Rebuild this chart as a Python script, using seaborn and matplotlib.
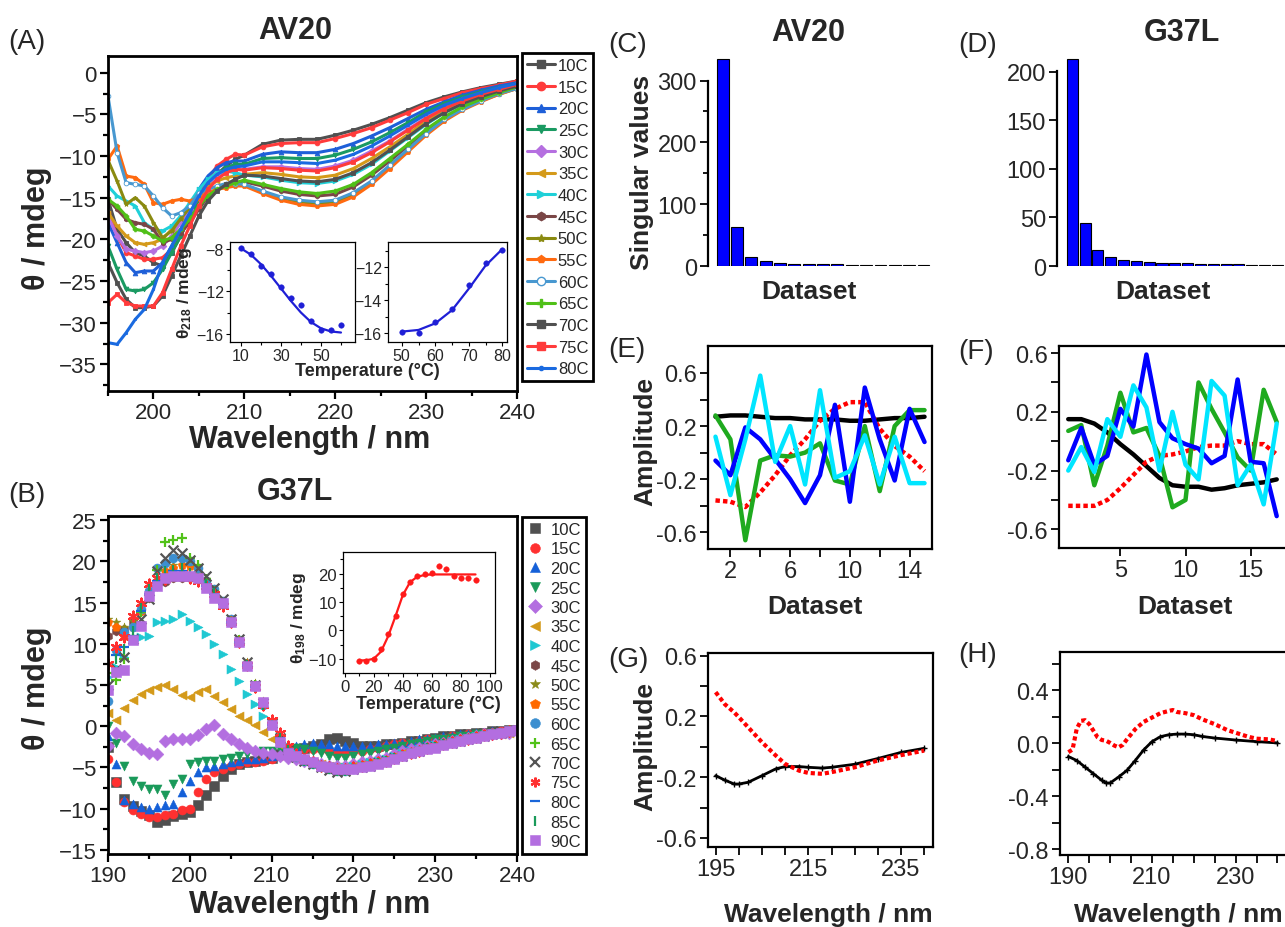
import matplotlib
matplotlib.use("Agg")
import matplotlib.pyplot as plt
import seaborn as sns
from matplotlib.lines import Line2D
from matplotlib.ticker import MultipleLocator, FixedLocator, FormatStrFormatter

sns.set_style("ticks")
plt.rcParams["font.family"] = ["Liberation Sans", "DejaVu Sans"]
plt.rcParams["mathtext.fontset"] = "custom"
plt.rcParams["mathtext.rm"] = "Liberation Sans"
plt.rcParams["mathtext.bf"] = "Liberation Sans:bold"
plt.rcParams["mathtext.it"] = "Liberation Sans:italic"

# ------------------------------------------------------------------ data
# Panel A : AV20 CD spectra (wavelength nm -> mdeg)
A_WL = list(range(195, 210)) + list(range(210, 241, 2))
A_TEMPS = ["10C", "15C", "20C", "25C", "30C", "35C", "40C", "45C", "50C", "55C", "60C", "65C", "70C", "75C", "80C"]
a10 = [-15.2, -18.8, -20.4, -21.6, -22.0, -22.8, -23.2, -21.6, -19.6, -17.2, -15.2, -13.6, -12.2, -11.2, -10.4,
       -9.9, -8.6, -8.1, -8.0, -8.0, -7.5, -6.9, -6.2, -5.4, -4.5, -3.6, -2.9, -2.3, -1.8, -1.4, -1.0]
a15 = [-16.8, -19.6, -21.6, -22.0, -22.4, -22.4, -22.2, -21.2, -19.6, -17.2, -14.8, -12.8, -11.2, -10.4, -9.8,
       -9.9, -8.9, -8.5, -8.4, -8.4, -7.9, -7.3, -6.6, -5.7, -4.8, -3.8, -3.1, -2.4, -1.9, -1.5, -1.0]
a20 = [-18.0, -20.4, -22.8, -24.0, -23.8, -23.8, -22.8, -20.8, -18.8, -16.4, -14.0, -12.4, -11.4, -10.8, -10.6,
       -10.6, -9.8, -9.5, -9.6, -9.6, -9.2, -8.5, -7.6, -6.6, -5.5, -4.4, -3.5, -2.7, -2.1, -1.6, -1.2]
a25 = [-20.8, -23.6, -26.0, -26.2, -26.0, -25.2, -23.6, -21.6, -19.6, -17.2, -15.2, -13.4, -12.2, -11.4, -11.0,
       -11.0, -10.3, -10.2, -10.3, -10.3, -9.9, -9.2, -8.3, -7.2, -6.0, -4.7, -3.7, -2.9, -2.3, -1.8, -1.3]
a30 = [-17.2, -19.6, -21.2, -21.4, -21.6, -21.4, -20.8, -19.6, -18.0, -16.4, -15.0, -13.6, -12.4, -11.8, -11.6,
       -11.6, -11.3, -11.3, -11.5, -11.6, -11.2, -10.5, -9.4, -8.2, -6.8, -5.4, -4.2, -3.3, -2.6, -1.9, -1.4]
a35 = [-16.8, -18.4, -19.6, -20.4, -20.6, -20.4, -20.0, -18.8, -17.4, -16.0, -14.8, -13.6, -13.0, -12.6, -12.4,
       -12.2, -12.0, -12.2, -12.5, -12.6, -12.3, -11.5, -10.3, -8.9, -7.4, -5.8, -4.6, -3.6, -2.8, -2.1, -1.5]
a40 = [-13.6, -14.8, -15.4, -16.0, -18.0, -18.8, -19.0, -18.4, -17.2, -15.6, -14.0, -12.8, -12.0, -11.8, -12.0,
       -12.3, -12.5, -12.9, -13.2, -13.3, -13.0, -12.2, -11.0, -9.4, -7.8, -6.2, -4.8, -3.8, -2.9, -2.2, -1.6]
a45 = [-15.2, -16.4, -17.6, -18.0, -18.2, -18.8, -20.4, -20.0, -19.2, -18.0, -16.4, -14.8, -13.8, -13.4, -13.2,
       -13.1, -13.6, -14.2, -14.6, -14.8, -14.6, -13.7, -12.3, -10.6, -8.8, -6.9, -5.4, -4.2, -3.3, -2.4, -1.8]
a50 = [-10.5, -13.0, -15.8, -15.0, -16.0, -18.0, -19.8, -19.0, -17.5, -16.2, -15.2, -14.6, -14.0, -13.7, -13.5,
       -13.5, -14.3, -15.0, -15.5, -15.7, -15.5, -14.6, -13.1, -11.3, -9.3, -7.3, -5.7, -4.4, -3.4, -2.6, -1.9]
a55 = [-10.4, -8.8, -12.4, -12.6, -13.4, -15.6, -15.8, -15.4, -15.2, -15.4, -15.0, -14.4, -14.0, -13.8, -13.6,
       -13.6, -14.5, -15.3, -15.8, -16.0, -15.8, -14.9, -13.4, -11.5, -9.5, -7.5, -5.8, -4.5, -3.5, -2.6, -1.9]
a60 = [-2.8, -9.6, -13.2, -13.4, -13.6, -14.8, -16.2, -17.2, -16.8, -16.0, -14.4, -14.0, -13.6, -13.3, -13.3,
       -13.4, -14.2, -14.9, -15.3, -15.5, -15.3, -14.4, -13.0, -11.1, -9.2, -7.3, -5.6, -4.4, -3.4, -2.5, -1.9]
a65 = [-15.2, -16.0, -17.2, -18.8, -19.0, -19.6, -20.2, -19.8, -18.8, -17.6, -16.0, -14.8, -14.0, -13.6, -13.2,
       -12.9, -13.4, -13.9, -14.3, -14.5, -14.2, -13.4, -12.0, -10.3, -8.6, -6.8, -5.3, -4.1, -3.2, -2.4, -1.7]
a70 = [-22.8, -25.2, -27.2, -28.2, -28.2, -28.0, -26.8, -24.4, -22.0, -19.6, -17.2, -15.4, -14.2, -13.4, -12.8,
       -12.3, -12.4, -12.7, -13.0, -13.1, -12.8, -12.0, -10.8, -9.3, -7.7, -6.1, -4.8, -3.7, -2.9, -2.2, -1.6]
a75 = [-27.6, -26.6, -27.6, -28.0, -28.0, -28.0, -26.4, -23.6, -20.8, -18.4, -16.0, -14.0, -12.8, -12.0, -11.6,
       -11.7, -11.4, -11.5, -11.7, -11.8, -11.4, -10.7, -9.6, -8.3, -6.9, -5.5, -4.3, -3.4, -2.6, -2.0, -1.4]
a80 = [-32.4, -32.6, -31.2, -29.6, -28.4, -26.0, -22.8, -20.8, -18.8, -16.8, -14.8, -13.2, -12.2, -11.6, -11.3,
       -11.2, -10.7, -10.7, -10.8, -10.9, -10.5, -9.8, -8.8, -7.6, -6.3, -5.0, -3.9, -3.1, -2.4, -1.8, -1.3]
A_SERIES = [a10, a15, a20, a25, a30, a35, a40, a45, a50, a55, a60, a65, a70, a75, a80]

# Panel A insets: theta218 vs temperature
A1_T = [10, 15, 20, 25, 30, 35, 40, 45, 50, 55, 60]
A1_PTS = [-7.9, -8.4, -9.6, -10.3, -11.6, -12.6, -13.3, -14.8, -15.7, -15.7, -15.2]
A1_FIT = [-7.9, -8.5, -9.4, -10.5, -11.7, -12.9, -14.0, -14.9, -15.5, -15.8, -15.9]
A2_T = [50, 55, 60, 65, 70, 75, 80]
A2_PTS = [-15.9, -16.0, -15.3, -14.5, -13.05, -11.76, -10.95]
A2_FIT = [-15.9, -15.8, -15.4, -14.6, -13.3, -11.9, -10.9]

# Panel B : G37L CD spectra
B_WL = list(range(190, 241))
B_TEMPS = ["10C", "15C", "20C", "25C", "30C", "35C", "40C", "45C", "50C", "55C", "60C", "65C", "70C", "75C", "80C", "85C", "90C"]
b10 = [-2.5, -6.8, -8.8, -9.7, -10.3, -10.8, -11.6, -11.4, -10.9, -10.6, -10.4,
       -9.6, -8.4, -7.2, -6.0, -5.2, -4.6, -4.4, -4.2, -4.0, -3.8,
       -3.4, -3.0, -2.8, -2.6, -2.4, -2.2, -1.6, -1.4, -1.8, -2.0,
       -2.4, -2.4, -2.4, -2.2, -2.2, -2.0, -1.8, -1.8, -1.6, -1.4,
       -1.2, -1.2, -1.0, -1.0, -0.8, -0.8, -0.6, -0.6, -0.5, -0.5]
b15 = [-4.0, -6.8, -9.2, -10.2, -10.6, -11.0, -11.0, -10.8, -10.6, -10.2, -10.0,
       -8.0, -6.4, -5.6, -5.2, -4.8, -4.6, -4.4, -4.4, -4.2, -4.0,
       -3.6, -3.2, -3.0, -2.8, -2.8, -2.8, -3.0, -3.2, -3.2, -3.0,
       -3.0, -2.8, -2.6, -2.4, -2.2, -2.0, -2.0, -1.8, -1.6, -1.6,
       -1.4, -1.2, -1.2, -1.0, -1.0, -0.8, -0.8, -0.6, -0.6, -0.5]
b20 = [-1.2, -4.6, -9.0, -9.4, -9.8, -10.0, -9.8, -9.6, -9.4, -8.0, -6.6,
       -5.6, -5.0, -4.8, -4.6, -4.4, -4.2, -4.0, -4.0, -3.8, -3.6,
       -3.2, -2.8, -2.4, -2.2, -2.0, -2.2, -2.2, -2.4, -2.4, -2.4,
       -2.4, -2.4, -2.2, -2.2, -2.0, -2.0, -1.8, -1.6, -1.6, -1.4,
       -1.2, -1.2, -1.0, -1.0, -0.8, -0.8, -0.6, -0.6, -0.5, -0.5]
b25 = [0.0, -2.0, -4.8, -6.6, -7.2, -7.6, -7.6, -8.4, -7.0, -6.4, -4.6,
       -4.4, -4.2, -4.2, -4.0, -3.8, -3.6, -3.4, -3.2, -3.0, -3.0,
       -2.8, -2.6, -2.6, -2.8, -3.0, -3.2, -3.6, -3.8, -3.8, -3.6,
       -3.4, -3.2, -3.0, -2.8, -2.6, -2.4, -2.2, -2.0, -1.8, -1.6,
       -1.6, -1.4, -1.2, -1.2, -1.0, -1.0, -0.8, -0.8, -0.6, -0.6]
b30 = [-2.4, -0.8, -1.2, -2.2, -2.8, -3.2, -3.4, -1.8, -1.5, -1.6, -1.5,
       -1.1, -0.3, 0.1, -0.9, -1.5, -2.2, -2.6, -3.0, -3.2, -3.4,
       -3.6, -3.8, -4.0, -4.2, -4.4, -4.6, -4.8, -4.8, -4.8, -4.6,
       -4.4, -4.2, -4.0, -3.8, -3.4, -3.0, -2.8, -2.6, -2.4, -2.2,
       -2.0, -1.8, -1.6, -1.4, -1.2, -1.0, -1.0, -0.8, -0.8, -0.6]
b35 = [1.6, 0.8, 2.2, 3.2, 3.9, 4.4, 4.8, 5.0, 4.5, 3.8, 3.5,
       4.1, 4.5, 3.7, 2.9, 2.1, 1.3, 0.7, 0.1, -0.7, -1.5,
       -2.3, -3.0, -3.6, -4.0, -4.3, -4.6, -4.8, -4.9, -4.9, -4.8,
       -4.6, -4.4, -4.2, -4.0, -3.6, -3.3, -3.0, -2.8, -2.5, -2.3,
       -2.0, -1.8, -1.6, -1.4, -1.2, -1.1, -1.0, -0.9, -0.8, -0.6]
b40 = [6.0, 7.2, 8.4, 10.4, 10.8, 11.0, 12.6, 12.8, 13.0, 13.6, 12.8,
       12.0, 11.2, 10.0, 8.8, 6.9, 5.5, 3.9, 2.7, 1.3, 0.1,
       -1.1, -2.4, -3.2, -3.8, -4.2, -4.6, -4.8, -5.0, -5.0, -4.8,
       -4.6, -4.4, -4.2, -4.0, -3.6, -3.3, -3.0, -2.8, -2.5, -2.3,
       -2.0, -1.8, -1.6, -1.4, -1.2, -1.1, -1.0, -0.9, -0.8, -0.6]
b45 = [11.0, 11.5, 11.8, 12.6, 14.0, 15.5, 17.0, 17.5, 18.0, 18.0, 18.0,
       17.8, 17.0, 16.0, 14.8, 12.8, 10.4, 7.6, 5.0, 2.8, 0.4,
       -1.6, -3.0, -3.6, -4.0, -4.4, -4.8, -5.0, -5.2, -5.2, -5.0,
       -4.8, -4.6, -4.4, -4.2, -3.8, -3.5, -3.2, -3.0, -2.7, -2.4,
       -2.1, -1.9, -1.7, -1.5, -1.3, -1.1, -0.9, -0.8, -0.6, -0.5]
b50 = [13.0, 12.6, 12.0, 12.8, 14.6, 16.5, 18.0, 19.0, 19.5, 20.0, 19.5,
       19.0, 17.8, 16.4, 15.0, 13.0, 10.6, 7.8, 5.2, 3.0, 0.6,
       -1.4, -2.8, -3.5, -4.0, -4.4, -4.8, -5.0, -5.2, -5.3, -5.1,
       -4.9, -4.7, -4.4, -4.2, -3.9, -3.6, -3.3, -3.0, -2.7, -2.4,
       -2.2, -1.9, -1.7, -1.5, -1.3, -1.1, -0.9, -0.8, -0.6, -0.5]
b55 = [12.6, 12.0, 11.0, 12.0, 14.0, 16.2, 17.6, 18.8, 19.2, 19.6, 19.4,
       18.6, 17.6, 16.6, 15.0, 12.8, 10.4, 7.6, 5.0, 2.8, 0.4,
       -1.5, -2.9, -3.6, -4.1, -4.5, -4.9, -5.1, -5.3, -5.3, -5.1,
       -4.9, -4.7, -4.5, -4.2, -3.9, -3.6, -3.3, -3.0, -2.7, -2.5,
       -2.2, -2.0, -1.7, -1.5, -1.3, -1.1, -1.0, -0.8, -0.6, -0.5]
b60 = [3.0, 9.2, 11.4, 12.0, 14.2, 16.4, 19.2, 19.8, 20.4, 20.4, 20.0,
       19.2, 17.6, 16.6, 15.2, 13.0, 10.4, 7.4, 5.0, 2.6, 0.2,
       -1.6, -3.0, -3.7, -4.2, -4.6, -5.0, -5.2, -5.4, -5.4, -5.2,
       -5.0, -4.8, -4.5, -4.2, -3.9, -3.6, -3.3, -3.0, -2.7, -2.5,
       -2.2, -2.0, -1.8, -1.6, -1.4, -1.2, -1.0, -0.8, -0.6, -0.5]
b65 = [6.4, 5.6, 8.2, 10.6, 13.8, 16.0, 19.0, 22.4, 22.6, 22.8, 20.4,
       19.6, 17.8, 16.4, 14.8, 12.8, 10.4, 7.6, 5.0, 2.8, 0.4,
       -1.2, -2.8, -3.6, -4.0, -4.4, -4.8, -5.0, -5.2, -5.2, -5.0,
       -4.8, -4.6, -4.4, -4.2, -3.8, -3.5, -3.2, -3.0, -2.7, -2.4,
       -2.2, -1.9, -1.7, -1.5, -1.3, -1.1, -0.9, -0.8, -0.6, -0.5]
b70 = [5.0, 7.0, 8.4, 10.6, 13.0, 15.4, 18.8, 20.4, 21.4, 21.0, 20.2,
       19.2, 18.2, 16.8, 15.4, 13.0, 10.6, 7.8, 5.0, 2.8, 0.4,
       -1.4, -2.9, -3.7, -4.2, -4.6, -5.0, -5.3, -5.5, -5.4, -5.2,
       -5.0, -4.8, -4.5, -4.2, -3.9, -3.6, -3.3, -3.0, -2.7, -2.5,
       -2.2, -2.0, -1.8, -1.6, -1.4, -1.2, -1.0, -0.8, -0.6, -0.5]
b75 = [7.6, 9.6, 10.8, 13.4, 15.0, 17.2, 18.0, 17.8, 18.6, 18.6, 18.0,
       17.6, 17.0, 16.0, 14.6, 12.6, 10.2, 7.4, 4.8, 2.6, 0.8,
       -0.8, -2.4, -3.4, -4.0, -4.4, -4.8, -5.0, -5.2, -5.2, -5.0,
       -4.8, -4.6, -4.4, -4.2, -3.8, -3.5, -3.2, -3.0, -2.7, -2.4,
       -2.2, -1.9, -1.7, -1.5, -1.3, -1.1, -0.9, -0.8, -0.6, -0.5]
b80 = [4.4, 8.6, 9.6, 11.0, 14.0, 16.0, 17.6, 18.4, 18.8, 18.8, 18.6,
       18.0, 17.0, 16.0, 14.8, 12.6, 10.2, 7.4, 4.8, 2.6, 0.2,
       -1.4, -2.8, -3.6, -4.1, -4.5, -4.9, -5.1, -5.3, -5.3, -5.1,
       -4.9, -4.7, -4.5, -4.2, -3.9, -3.6, -3.3, -3.0, -2.7, -2.5,
       -2.2, -2.0, -1.7, -1.5, -1.3, -1.1, -1.0, -0.8, -0.6, -0.5]
b85 = [5.6, 8.2, 9.4, 11.6, 14.4, 16.6, 18.0, 18.8, 19.0, 19.2, 18.6,
       18.0, 17.2, 16.2, 14.8, 12.6, 10.2, 7.4, 4.8, 2.6, 0.2,
       -1.4, -2.9, -3.7, -4.2, -4.6, -5.0, -5.2, -5.4, -5.4, -5.2,
       -5.0, -4.8, -4.5, -4.2, -3.9, -3.6, -3.3, -3.0, -2.7, -2.5,
       -2.2, -2.0, -1.8, -1.6, -1.4, -1.2, -1.0, -0.8, -0.6, -0.5]
b90 = [4.4, 6.6, 6.8, 10.4, 12.2, 15.8, 17.0, 18.0, 18.2, 18.2, 18.2,
       18.0, 16.8, 15.6, 15.0, 12.6, 10.2, 7.3, 4.9, 2.9, 0.1,
       -1.9, -3.2, -3.6, -4.0, -4.4, -4.8, -5.0, -5.2, -5.2, -5.2,
       -5.0, -4.8, -4.6, -4.3, -4.0, -3.6, -3.2, -3.0, -2.8, -2.6,
       -2.3, -2.0, -1.8, -1.6, -1.4, -1.2, -1.0, -0.8, -0.6, -0.4]
B_SERIES = [b10, b15, b20, b25, b30, b35, b40, b45, b50, b55, b60, b65, b70, b75, b80, b85, b90]

# Panel B inset: theta198 vs temperature
BI_T = [10, 15, 20, 25, 30, 35, 40, 45, 50, 55, 60, 65, 70, 75, 80, 85, 90]
BI_PTS = [-10.6, -10.6, -10.0, -6.7, -1.3, 5.1, 12.7, 17.2, 19.0, 19.8, 20.3, 22.6, 21.5, 19.0, 18.6, 18.6, 17.8]
BI_FIT = [-10.6, -10.5, -10.0, -7.5, -2.0, 5.0, 12.4, 17.0, 18.9, 19.5, 19.7, 19.7, 19.7, 19.7, 19.7, 19.7, 19.7]

# Panels C, D : singular values
C_SV = [335, 63, 14, 8, 5, 4, 3, 3, 2.5, 2, 2, 1.5, 1.2, 1, 1]
D_SV = [213, 44, 16, 9, 6, 5.5, 4, 3.5, 3, 3, 2.5, 2.5, 2, 2, 1.5, 1.2, 1]

# Panels E, F : amplitude vs dataset
E_X = list(range(1, 16))
E_BLACK = [0.27, 0.28, 0.28, 0.27, 0.26, 0.26, 0.25, 0.25, 0.25, 0.24, 0.24, 0.25, 0.26, 0.26, 0.27]
E_RED = [-0.36, -0.37, -0.41, -0.30, -0.17, -0.02, 0.10, 0.24, 0.33, 0.38, 0.38, 0.18, 0.05, -0.03, -0.14]
E_GREEN = [0.28, 0.10, -0.66, -0.06, -0.02, -0.03, 0.00, 0.07, -0.21, -0.24, 0.20, -0.29, 0.20, 0.32, 0.32]
E_BLUE = [-0.06, -0.17, 0.19, 0.10, -0.05, -0.20, -0.38, -0.17, 0.36, -0.37, 0.49, 0.10, -0.21, 0.33, 0.08]
E_CYAN = [0.12, -0.32, 0.10, 0.58, -0.07, 0.20, -0.24, 0.47, -0.19, -0.14, 0.13, -0.24, 0.12, -0.23, -0.23]
F_X = list(range(1, 18))
F_BLACK = [0.15, 0.15, 0.12, 0.06, -0.02, -0.09, -0.17, -0.25, -0.30, -0.31, -0.31, -0.33, -0.32, -0.30, -0.29, -0.28, -0.26]
F_RED = [-0.44, -0.44, -0.44, -0.40, -0.32, -0.23, -0.14, -0.10, -0.09, -0.07, -0.04, -0.03, -0.03, 0.00, -0.02, -0.02, -0.09]
F_GREEN = [0.07, 0.11, -0.30, -0.03, 0.33, 0.06, 0.09, -0.10, -0.45, -0.40, 0.40, 0.22, 0.06, -0.11, -0.20, 0.35, 0.13]
F_BLUE = [-0.13, 0.09, -0.16, -0.10, 0.22, 0.10, 0.59, 0.13, 0.02, -0.02, -0.05, -0.15, -0.10, 0.42, -0.14, -0.15, -0.51]
F_CYAN = [-0.20, -0.04, -0.21, 0.15, 0.03, 0.38, 0.23, -0.20, 0.20, -0.16, -0.26, 0.41, 0.31, -0.30, -0.16, -0.43, 0.12]

# Panels G, H : basis spectra
G_WL = [195, 197, 199, 200, 202, 205, 208, 210, 213, 215, 218, 220, 225, 230, 235, 240]
G_BLACK = [-0.19, -0.22, -0.245, -0.245, -0.234, -0.19, -0.145, -0.13, -0.13, -0.135, -0.14, -0.135, -0.115, -0.077, -0.037, -0.01]
G_RED = [0.36, 0.28, 0.227, 0.195, 0.129, 0.03, -0.058, -0.113, -0.157, -0.172, -0.178, -0.167, -0.135, -0.09, -0.055, -0.025]
H_WL_K = [190, 192, 194, 196, 198, 199, 200, 202, 204, 206, 208, 210, 212, 214, 216, 218, 220, 222, 225, 230, 235, 240]
H_BLACK = [-0.10, -0.13, -0.18, -0.23, -0.28, -0.30, -0.30, -0.255, -0.205, -0.13, -0.05, 0.013, 0.05, 0.065, 0.07, 0.07,
           0.065, 0.052, 0.04, 0.025, 0.013, 0.003]
H_WL_R = [190, 191, 192, 193, 194, 195, 196, 197, 198, 199, 200, 201, 202, 203, 204, 206, 208, 210, 212, 214, 215, 216,
          218, 220, 222, 225, 228, 230, 233, 235, 238, 240]
H_RED = [-0.067, -0.047, 0.11, 0.17, 0.175, 0.145, 0.095, 0.045, 0.025, 0.02, 0.003, -0.017, -0.03, -0.012, 0.03, 0.107,
         0.162, 0.195, 0.228, 0.245, 0.252, 0.237, 0.228, 0.213, 0.182, 0.145, 0.10, 0.08, 0.05, 0.035, 0.03, 0.017]

# ------------------------------------------------------------------ styles
A_COLORS = ["#505050", "#ff3b3b", "#1e5fd8", "#1a9a62", "#b56fe0", "#d49a1a", "#1fd0d8", "#7a4646",
            "#8a8a10", "#ff6a10", "#4898d0", "#50c018", "#505050", "#ff3b3b", "#1a6ae0"]
A_MARKERS = ["s", "o", "^", "v", "D", "<", ">", "h", "*", "p", "o", "P", "s", "s", "."]
B_COLORS = ["#505050", "#ff3030", "#1560d8", "#1a9a5a", "#b36ee0", "#d49a1a", "#1fc8d2", "#7b4747",
            "#8b8b1a", "#ff6a00", "#3c8fd0", "#52c21a", "#555555", "#ff3030", "#1a66d9", "#1a9a5a", "#b36ee0"]
B_MARKERS = ["s", "o", "^", "v", "D", "<", ">", "h", "*", "p", "o", "+", "x", (6, 2, 0), "_", "|", "s"]
LINE_MARKERS = {"+", "x", "_", "|"}

W, H = 1285, 928
fig = plt.figure(figsize=(W / 100, H / 100), dpi=100)


def rect(l, t, r, b):
    return [l / W, 1 - b / H, (r - l) / W, (b - t) / H]


def ftext(x, y, s, **kw):
    kw.setdefault("ha", "center")
    kw.setdefault("va", "center")
    fig.text(x / W, 1 - y / H, s, **kw)


def style(ax, lw=1.8, size=16, major=6, minor=3.5, pad=2):
    for sp in ax.spines.values():
        sp.set_linewidth(lw)
        sp.set_color("black")
        sp.set_visible(True)
    ax.tick_params(which="both", direction="out", width=max(lw * 0.8, 0.8), color="black",
                   labelsize=size, top=False, right=False, left=True, bottom=True, pad=pad)
    ax.tick_params(which="major", length=major)
    ax.tick_params(which="minor", length=minor)
    ax.set_xlabel("")
    ax.set_ylabel("")


# ------------------------------------------------------------------ Panel A
axA = fig.add_axes(rect(108, 57, 517, 392))
for vals, col, mk, lab in zip(A_SERIES, A_COLORS, A_MARKERS, A_TEMPS):
    mfc = "white" if lab == "60C" else col
    sns.lineplot(x=A_WL, y=vals, ax=axA, color=col, lw=2.2, marker=mk, markersize=3.4,
                 markerfacecolor=mfc, markeredgecolor=col, markeredgewidth=0.6)
axA.set_xlim(195, 240)
axA.set_ylim(-38.2, 2)
axA.xaxis.set_major_locator(MultipleLocator(10))
axA.xaxis.set_minor_locator(MultipleLocator(5))
axA.yaxis.set_major_locator(MultipleLocator(5))
axA.yaxis.set_minor_locator(MultipleLocator(2.5))
style(axA, lw=2.0, size=16)

hA = [Line2D([0], [0], color=c, lw=2.2, marker=m, markersize=6,
             markerfacecolor=("white" if l == "60C" else c), markeredgecolor=c)
      for c, m, l in zip(A_COLORS, A_MARKERS, A_TEMPS)]
legA = fig.legend(hA, A_TEMPS, loc="upper left", bbox_to_anchor=(522 / W, 1 - 54 / H), fontsize=12,
                  frameon=True, fancybox=False, edgecolor="black", framealpha=1, borderpad=0.3,
                  labelspacing=0.40, handlelength=1.7, handletextpad=0.15, borderaxespad=0)
legA.get_frame().set_linewidth(2)

# insets of A
ax1 = fig.add_axes(rect(230, 243, 355, 343))
sns.lineplot(x=A1_T, y=A1_FIT, ax=ax1, color="#1f1fd6", lw=1.6)
sns.scatterplot(x=A1_T, y=A1_PTS, ax=ax1, color="#1f1fd6", s=16, edgecolor="#1f1fd6", legend=False)
ax1.set_xlim(4.6, 67)
ax1.set_ylim(-16.8, -7.3)
ax1.xaxis.set_major_locator(FixedLocator([10, 30, 50]))
ax1.xaxis.set_minor_locator(FixedLocator([20, 40, 60]))
ax1.yaxis.set_major_locator(FixedLocator([-8, -12, -16]))
ax1.yaxis.set_minor_locator(FixedLocator([-10, -14]))
style(ax1, lw=0.9, size=11.5, major=3, minor=2, pad=1.5)

ax2 = fig.add_axes(rect(388, 243, 507, 343))
sns.lineplot(x=A2_T, y=A2_FIT, ax=ax2, color="#1f1fd6", lw=1.6)
sns.scatterplot(x=A2_T, y=A2_PTS, ax=ax2, color="#1f1fd6", s=16, edgecolor="#1f1fd6", legend=False)
ax2.set_xlim(45.9, 81.4)
ax2.set_ylim(-16.53, -10.47)
ax2.xaxis.set_major_locator(FixedLocator([50, 60, 70, 80]))
ax2.xaxis.set_minor_locator(FixedLocator([55, 65, 75]))
ax2.yaxis.set_major_locator(FixedLocator([-12, -14, -16]))
ax2.yaxis.set_minor_locator(FixedLocator([-11, -13, -15]))
style(ax2, lw=0.9, size=11.5, major=3, minor=2, pad=1.5)

# ------------------------------------------------------------------ Panel B
axB = fig.add_axes(rect(108, 517, 517, 855))
for vals, col, mk in zip(B_SERIES, B_COLORS, B_MARKERS):
    if (isinstance(mk, str) and mk in LINE_MARKERS) or isinstance(mk, tuple):
        sns.scatterplot(x=B_WL, y=vals, ax=axB, color=col, marker=mk, s=50, linewidth=1.6, legend=False)
    else:
        sns.scatterplot(x=B_WL, y=vals, ax=axB, color=col, marker=mk, s=42, edgecolor=col, linewidth=0.4,
                        legend=False)
axB.set_xlim(190, 240)
axB.set_ylim(-15.5, 25.5)
axB.xaxis.set_major_locator(MultipleLocator(10))
axB.xaxis.set_minor_locator(MultipleLocator(5))
axB.yaxis.set_major_locator(MultipleLocator(5))
axB.yaxis.set_minor_locator(MultipleLocator(2.5))
style(axB, lw=2.0, size=16)

hB = []
for c, m in zip(B_COLORS, B_MARKERS):
    line_art = (isinstance(m, str) and m in LINE_MARKERS) or isinstance(m, tuple)
    hB.append(Line2D([0], [0], ls="", marker=m, markersize=7, color=c, markeredgecolor=c,
                     markeredgewidth=(1.6 if line_art else 0.4)))
legB = fig.legend(hB, B_TEMPS, loc="upper left", bbox_to_anchor=(522 / W, 1 - 518 / H), fontsize=12,
                  frameon=True, fancybox=False, edgecolor="black", framealpha=1, borderpad=0.3,
                  labelspacing=0.27, handlelength=1.0, handletextpad=0.4, borderaxespad=0)
legB.get_frame().set_linewidth(2)

axBI = fig.add_axes(rect(343, 553, 495, 674))
sns.lineplot(x=BI_T, y=BI_FIT, ax=axBI, color="#ff1a1a", lw=1.6)
sns.scatterplot(x=BI_T, y=BI_PTS, ax=axBI, color="#ff1a1a", s=16, edgecolor="#ff1a1a", legend=False)
axBI.set_xlim(-1.1, 103.4)
axBI.set_ylim(-15, 27.6)
axBI.xaxis.set_major_locator(MultipleLocator(20))
axBI.xaxis.set_minor_locator(MultipleLocator(10))
axBI.yaxis.set_major_locator(FixedLocator([-10, 0, 10, 20]))
axBI.yaxis.set_minor_locator(FixedLocator([-5, 5, 15, 25]))
style(axBI, lw=0.9, size=12, major=3, minor=2, pad=1.5)

# ------------------------------------------------------------------ Panels C, D
axC = fig.add_axes(rect(708, 55, 931, 267))
sns.barplot(x=list(range(len(C_SV))), y=C_SV, ax=axC, color="#0000ff", saturation=1,
            edgecolor="black", linewidth=0.8, width=0.83)
axC.set_xlim(-1.02, 14.52)
axC.set_ylim(0, 343)
axC.yaxis.set_major_locator(FixedLocator([0, 100, 200, 300]))
axC.yaxis.set_minor_locator(FixedLocator([50, 150, 250]))
style(axC, lw=1.6, size=17)
axC.set_xticks([])
for s in ("top", "right", "bottom"):
    axC.spines[s].set_visible(False)
axC.spines["left"].set_bounds(0, 300)
axC.tick_params(axis="x", length=0)

axD = fig.add_axes(rect(1057, 55, 1290, 267))
sns.barplot(x=list(range(len(D_SV))), y=D_SV, ax=axD, color="#0000ff", saturation=1,
            edgecolor="black", linewidth=0.8, width=0.86)
axD.set_xlim(-1.185, 16.98)
axD.set_ylim(0, 218)
axD.yaxis.set_major_locator(FixedLocator([0, 50, 100, 150, 200]))
style(axD, lw=1.6, size=17)
axD.set_xticks([])
for s in ("top", "right", "bottom"):
    axD.spines[s].set_visible(False)
axD.spines["left"].set_bounds(0, 201)
axD.tick_params(axis="x", length=0)

# ------------------------------------------------------------------ Panels E, F
DOT = (0, (1.0, 0.7))


def amp_lines(ax, x, k, r, g, b, c):
    sns.lineplot(x=x, y=k, ax=ax, color="black", lw=3.2)
    sns.lineplot(x=x, y=r, ax=ax, color="#ff0000", lw=3.2, linestyle=DOT)
    sns.lineplot(x=x, y=g, ax=ax, color="#1faa1f", lw=3.2)
    sns.lineplot(x=x, y=b, ax=ax, color="#0000ff", lw=3.2)
    sns.lineplot(x=x, y=c, ax=ax, color="#00e5ff", lw=3.2)


axE = fig.add_axes(rect(708, 347, 932, 550))
amp_lines(axE, E_X, E_BLACK, E_RED, E_GREEN, E_BLUE, E_CYAN)
axE.set_xlim(0.5, 15.5)
axE.set_ylim(-0.726, 0.803)
axE.xaxis.set_major_locator(FixedLocator([2, 6, 10, 14]))
axE.xaxis.set_minor_locator(FixedLocator([4, 8, 12]))
axE.yaxis.set_major_locator(FixedLocator([-0.6, -0.2, 0.2, 0.6]))
axE.yaxis.set_minor_locator(FixedLocator([-0.4, 0.0, 0.4]))
axE.yaxis.set_major_formatter(FormatStrFormatter("%.1f"))
style(axE, lw=1.6, size=17)
axE.tick_params(which="minor", length=6)

axF = fig.add_axes(rect(1059, 347, 1290, 549))
amp_lines(axF, F_X, F_BLACK, F_RED, F_GREEN, F_BLUE, F_CYAN)
axF.set_xlim(0.29, 18.02)
axF.set_ylim(-0.727, 0.648)
axF.xaxis.set_major_locator(FixedLocator([5, 10, 15]))
axF.yaxis.set_major_locator(FixedLocator([-0.6, -0.2, 0.2, 0.6]))
axF.yaxis.set_minor_locator(FixedLocator([-0.4, 0.0, 0.4]))
axF.yaxis.set_major_formatter(FormatStrFormatter("%.1f"))
style(axF, lw=1.6, size=17)
axF.tick_params(which="minor", length=6)

# ------------------------------------------------------------------ Panels G, H
axG = fig.add_axes(rect(708, 654, 933, 848))
sns.lineplot(x=G_WL, y=G_BLACK, ax=axG, color="black", lw=2.0, marker="+", markersize=4,
             markeredgecolor="black", markeredgewidth=1)
sns.lineplot(x=G_WL, y=G_RED, ax=axG, color="#ff0000", lw=3.0, linestyle=DOT)
axG.set_xlim(193.35, 241.9)
axG.set_ylim(-0.66, 0.618)
axG.xaxis.set_major_locator(FixedLocator([195, 215, 235]))
axG.xaxis.set_minor_locator(FixedLocator([200, 205, 210, 220, 225, 230, 240]))
axG.yaxis.set_major_locator(FixedLocator([-0.6, -0.2, 0.2, 0.6]))
axG.yaxis.set_minor_locator(FixedLocator([-0.4, 0.0, 0.4]))
axG.yaxis.set_major_formatter(FormatStrFormatter("%.1f"))
style(axG, lw=1.6, size=17)
axG.tick_params(which="minor", length=6)

axH = fig.add_axes(rect(1060, 653, 1290, 856))
sns.lineplot(x=H_WL_K, y=H_BLACK, ax=axH, color="black", lw=2.0, marker="+", markersize=4,
             markeredgecolor="black", markeredgewidth=1)
sns.lineplot(x=H_WL_R, y=H_RED, ax=axH, color="#ff0000", lw=3.0, linestyle=DOT)
axH.set_xlim(188, 243.0)
axH.set_ylim(-0.845, 0.691)
axH.xaxis.set_major_locator(FixedLocator([190, 210, 230]))
axH.xaxis.set_minor_locator(FixedLocator([195, 200, 205, 215, 220, 225, 235, 240]))
axH.yaxis.set_major_locator(FixedLocator([-0.8, -0.4, 0.0, 0.4]))
axH.yaxis.set_minor_locator(FixedLocator([-0.6, -0.2, 0.2, 0.6]))
axH.yaxis.set_major_formatter(FormatStrFormatter("%.1f"))
style(axH, lw=1.6, size=17)
axH.tick_params(which="minor", length=6)

# ------------------------------------------------------------------ texts
BIG = dict(fontsize=22, fontweight="bold")
MID = dict(fontsize=19, fontweight="bold")
LET = dict(fontsize=20, ha="left")

ftext(8, 42, "(A)", **LET)
ftext(295, 31, "AV20", **BIG)
ftext(37, 228, "θ / mdeg", rotation=90, **BIG)
ftext(310, 440, "Wavelength / nm", **BIG)
ftext(184, 293, "θ$_{\\mathbf{218}}$ / mdeg", rotation=90, fontsize=12.5, fontweight="bold")
ftext(367, 372, "Temperature (°C)", fontsize=13, fontweight="bold")

ftext(8, 495, "(B)", **LET)
ftext(295, 492, "G37L", **BIG)
ftext(37, 688, "θ / mdeg", rotation=90, **BIG)
ftext(310, 905, "Wavelength / nm", **BIG)
ftext(299, 618, "θ$_{\\mathbf{198}}$ / mdeg", rotation=90, fontsize=12.5, fontweight="bold")
ftext(428, 705, "Temperature (°C)", fontsize=13, fontweight="bold")

ftext(608, 45, "(C)", **LET)
ftext(808, 33, "AV20", **BIG)
ftext(642, 172, "Singular values", rotation=90, **MID)
ftext(809, 292, "Dataset", **MID)

ftext(958, 45, "(D)", **LET)
ftext(1182, 33, "G37L", **BIG)
ftext(1163, 292, "Dataset", **MID)

ftext(608, 350, "(E)", **LET)
ftext(645, 442, "Amplitude", rotation=90, **MID)
ftext(815, 607, "Dataset", **MID)

ftext(958, 352, "(F)", **LET)
ftext(1185, 607, "Dataset", **MID)

ftext(608, 660, "(G)", **LET)
ftext(645, 747, "Amplitude", rotation=90, **MID)
ftext(828, 915, "Wavelength / nm", **MID)

ftext(958, 655, "(H)", **LET)
ftext(1178, 915, "Wavelength / nm", **MID)

fig.savefig("out.png", dpi=100)
